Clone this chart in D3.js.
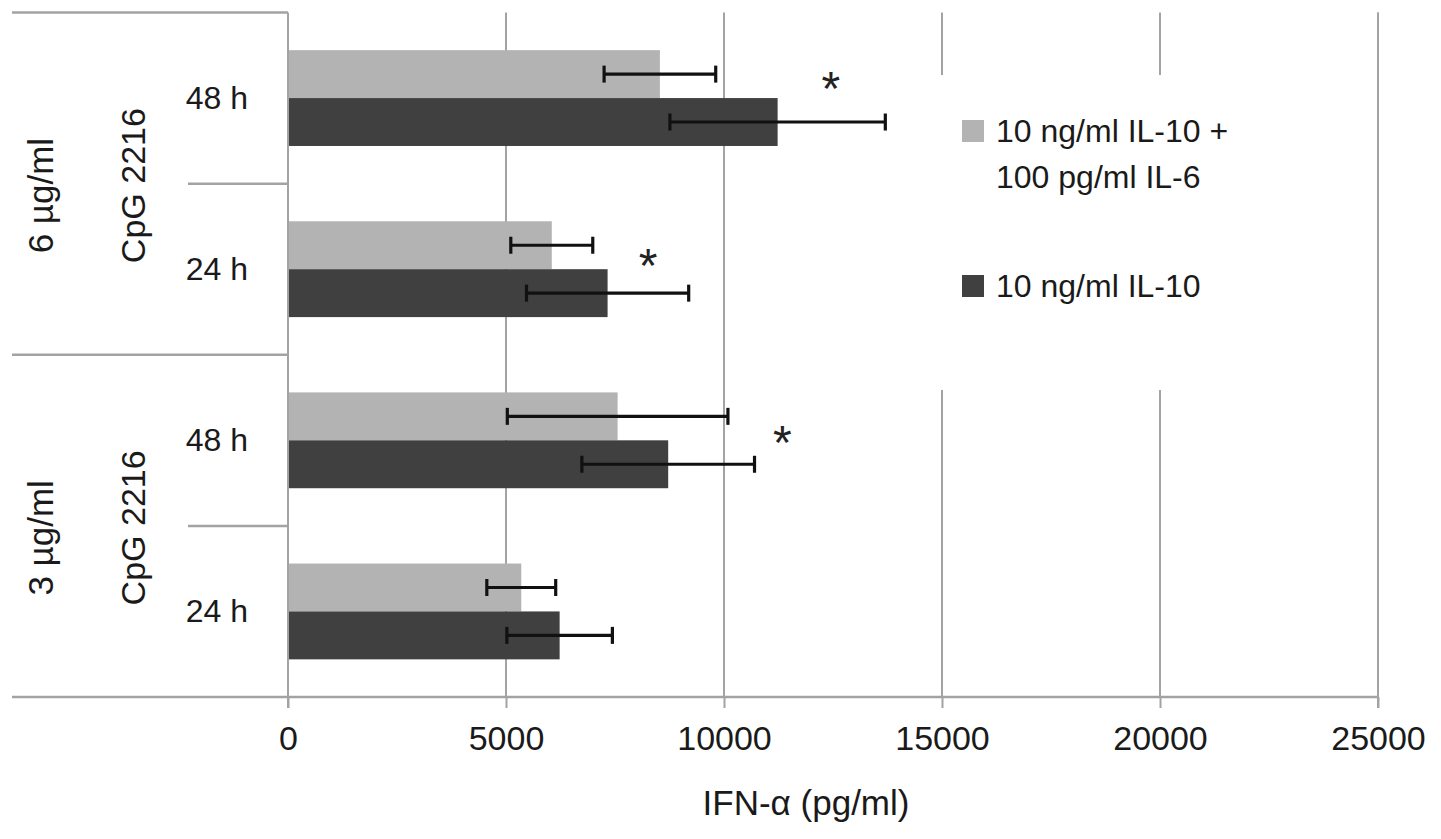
<!DOCTYPE html>
<html>
<head>
<meta charset="utf-8">
<script src="https://cdn.jsdelivr.net/npm/d3@7"></script>
<style>
  html, body { margin: 0; padding: 0; background: #fff; }
  svg { display: block; font-family: "Liberation Sans", Arial, sans-serif; }
</style>
</head>
<body>
<svg id="chart" width="1441" height="839"></svg>
<script>
// ---- data ----
const doses = ["6 µg/ml", "3 µg/ml"];
const rowKeys = ["6|48", "6|24", "3|48", "3|24"];
const rowDose = ["6 µg/ml", "6 µg/ml", "3 µg/ml", "3 µg/ml"];
const rowTime = ["48 h", "24 h", "48 h", "24 h"];
const seriesNames = ["10 ng/ml IL-10 + 100 pg/ml IL-6", "10 ng/ml IL-10"];
const comboValues = [8530, 6050, 7560, 5350];
const comboErrors = [1280, 940, 2530, 790];
const il10Values = [11230, 7330, 8720, 6230];
const il10Errors = [2470, 1860, 1980, 1210];
const starRows = ["6|48", "6|24", "3|48"];
const starValues = [12450, 8260, 11340];
const xTicks = [0, 5000, 10000, 15000, 20000, 25000];
const legendLines = [["10 ng/ml IL-10 +", "100 pg/ml IL-6"], ["10 ng/ml IL-10"]];
const xTitle = "IFN-α (pg/ml)";
const groupLabel = "CpG 2216";

// ---- layout ----
const svg = d3.select("#chart");
const pLeft = 288, pRight = 1378, pTop = 12.5, pBottom = 697;
const lineColor = "#a3a3a3";
const colors = ["#b3b3b3", "#404040"];

const x = d3.scaleLinear().domain([0, 25000]).range([pLeft, pRight]);
const y = d3.scaleBand().domain(rowKeys).range([pTop, pBottom]).paddingInner(0.44).paddingOuter(0.22);
const ySeries = d3.scaleBand().domain([0, 1]).range([0, y.bandwidth()]);
const yRow = d3.scaleBand().domain(rowKeys).range([pTop, pBottom]);
const yDose = d3.scaleBand().domain(doses).range([pTop, pBottom]);

// gridlines
svg.append("g").selectAll("line").data(xTicks.slice(1)).join("line")
  .attr("x1", d => x(d)).attr("x2", d => x(d))
  .attr("y1", pTop).attr("y2", pBottom)
  .attr("stroke", lineColor).attr("stroke-width", 2);

// bars
const series = [
  { values: comboValues, errors: comboErrors },
  { values: il10Values, errors: il10Errors }
];
series.forEach((s, si) => {
  const g = svg.append("g");
  g.selectAll("rect").data(rowKeys).join("rect")
    .attr("x", x(0))
    .attr("y", (k) => y(k) + ySeries(si))
    .attr("width", (k, i) => x(s.values[i]) - x(0))
    .attr("height", ySeries.bandwidth())
    .attr("fill", colors[si]);
});

// legend box (covers gridlines)
const lg = svg.append("g");
lg.append("rect").attr("x", 934).attr("y", 75).attr("width", 442).attr("height", 315).attr("fill", "#fff");
const legendY = [142, 297];
legendLines.forEach((lines, i) => {
  lg.append("rect").attr("x", 962).attr("y", legendY[i] - 22).attr("width", 22).attr("height", 22)
    .attr("fill", colors[i]);
  lines.forEach((t, j) => {
    lg.append("text").attr("x", 996).attr("y", legendY[i] + j * 46)
      .attr("font-size", 32).attr("fill", "#1a1a1a").text(t);
  });
});

// error bars
series.forEach((s, si) => {
  const g = svg.append("g").attr("stroke", "#111").attr("stroke-width", 3.2);
  rowKeys.forEach((k, i) => {
    const cy = y(k) + ySeries(si) + ySeries.bandwidth() / 2;
    const lo = x(s.values[i] - s.errors[i]), hi = x(s.values[i] + s.errors[i]);
    g.append("line").attr("x1", lo).attr("x2", hi).attr("y1", cy).attr("y2", cy);
    g.append("line").attr("x1", lo).attr("x2", lo).attr("y1", cy - 8.5).attr("y2", cy + 8.5);
    g.append("line").attr("x1", hi).attr("x2", hi).attr("y1", cy - 8.5).attr("y2", cy + 8.5);
  });
});

// significance stars
const starShift = [7, 13, 19];
svg.append("g").selectAll("text").data(starRows).join("text")
  .attr("x", (k, i) => x(starValues[i]))
  .attr("y", (k, i) => yRow(k) + yRow.bandwidth() / 2 + starShift[i])
  .attr("text-anchor", "middle").attr("font-size", 48).attr("fill", "#222")
  .text("*");

// right border at 25000
svg.append("line").attr("x1", x(25000)).attr("x2", x(25000)).attr("y1", pTop).attr("y2", pBottom + 11)
  .attr("stroke", lineColor).attr("stroke-width", 2);

// x axis
const xAxis = d3.axisBottom(x).tickValues(xTicks).tickSize(11).tickFormat(d3.format("d"));
const gx = svg.append("g").attr("transform", `translate(0,${pBottom})`).call(xAxis);
gx.select(".domain").remove();
gx.selectAll(".tick line").attr("stroke", lineColor).attr("stroke-width", 2);
gx.selectAll(".tick text").attr("font-size", 34).attr("fill", "#1a1a1a")
  .attr("font-family", "Liberation Sans, Arial, sans-serif").attr("y", 53).attr("dy", 0);
svg.append("line").attr("x1", 12).attr("x2", pRight).attr("y1", pBottom).attr("y2", pBottom)
  .attr("stroke", lineColor).attr("stroke-width", 2.5);

// category axis line
svg.append("line").attr("x1", pLeft).attr("x2", pLeft).attr("y1", pTop).attr("y2", pBottom + 11)
  .attr("stroke", lineColor).attr("stroke-width", 2);

// dose dividers
svg.append("g").selectAll("line").data(doses).join("line")
  .attr("x1", 12).attr("x2", pLeft)
  .attr("y1", d => yDose(d)).attr("y2", d => yDose(d))
  .attr("stroke", lineColor).attr("stroke-width", 2.5);
// time sub-dividers
svg.append("g").selectAll("line").data(doses).join("line")
  .attr("x1", 188).attr("x2", pLeft)
  .attr("y1", d => yDose(d) + yDose.bandwidth() / 2).attr("y2", d => yDose(d) + yDose.bandwidth() / 2)
  .attr("stroke", lineColor).attr("stroke-width", 2.5);

// time labels
svg.append("g").selectAll("text").data(rowKeys).join("text")
  .attr("x", 248).attr("y", k => yRow(k) + yRow.bandwidth() / 2 + 11)
  .attr("text-anchor", "end").attr("font-size", 32).attr("fill", "#1a1a1a")
  .text((k, i) => rowTime[i]);

// rotated group labels
doses.forEach(d => {
  const cy = yDose(d) + yDose.bandwidth() / 2;
  svg.append("text").attr("transform", `translate(145,${cy + 2}) rotate(-90)`)
    .attr("text-anchor", "middle").attr("font-size", 34).attr("fill", "#1a1a1a").text(groupLabel);
  svg.append("text").attr("transform", `translate(53,${cy + 12}) rotate(-90)`)
    .attr("text-anchor", "middle").attr("font-size", 35).attr("fill", "#1a1a1a").text(d);
});

// x title
svg.append("text").attr("x", 806).attr("y", 815).attr("text-anchor", "middle")
  .attr("font-size", 35).attr("fill", "#1a1a1a").text(xTitle);
</script>
</body>
</html>
